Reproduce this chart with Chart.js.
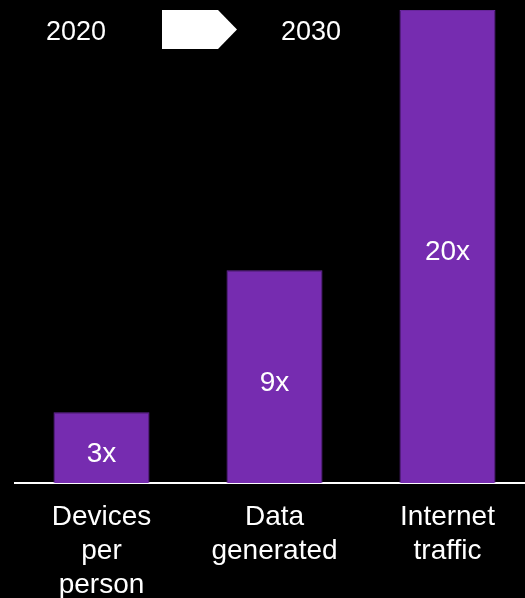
<!DOCTYPE html>
<html>
<head>
<meta charset="utf-8">
<script src="https://cdn.jsdelivr.net/npm/chart.js@4.4.0/dist/chart.umd.min.js"></script>
<style>
    html, body { margin: 0; padding: 0; background: #000; overflow: hidden; }
    #wrap { position: relative; width: 525px; height: 598px; overflow: hidden; }
</style>
</head>
<body>
<div id="wrap"><canvas id="growthChart" width="540" height="611"></canvas></div>
<script>
// Growth multipliers from 2020 to 2030
const categories = [['Devices', 'per', 'person'], ['Data', 'generated'], ['Internet', 'traffic']];
const multipliers = [3, 9, 20];
const yearFrom = '2020';
const yearTo = '2030';

const FONT = '"Liberation Sans", Arial, sans-serif';
const PURPLE = '#762cb0';

// Value text in the middle of each bar
const barLabels = {
    id: 'barLabels',
    afterDatasetsDraw(chart) {
        const ctx = chart.ctx;
        const meta = chart.getDatasetMeta(0);
        ctx.save();
        ctx.fillStyle = '#ffffff';
        ctx.font = `28px ${FONT}`;
        ctx.textAlign = 'center';
        ctx.textBaseline = 'middle';
        meta.data.forEach((bar, i) => {
            const y = (bar.y + bar.base) / 2 + 6;
            ctx.fillText(`${multipliers[i]}x`, bar.x, y);
        });
        ctx.restore();
    }
};

// Year heading with the arrow between
const yearHeader = {
    id: 'yearHeader',
    afterDraw(chart) {
        const ctx = chart.ctx;
        ctx.save();
        ctx.fillStyle = '#ffffff';
        ctx.font = `27px ${FONT}`;
        ctx.textAlign = 'center';
        ctx.textBaseline = 'alphabetic';
        ctx.fillText(yearFrom, 76, 40);
        ctx.fillText(yearTo, 311, 40);

        ctx.beginPath();
        ctx.moveTo(162, 10);
        ctx.lineTo(218, 10);
        ctx.lineTo(237, 29.5);
        ctx.lineTo(218, 49);
        ctx.lineTo(162, 49);
        ctx.closePath();
        ctx.fill();
        ctx.restore();
    }
};

const ctx = document.getElementById('growthChart').getContext('2d');
const chart = new Chart(ctx, {
    type: 'bar',
    data: {
        labels: categories,
        datasets: [{
            data: multipliers,
            backgroundColor: PURPLE,
            borderColor: '#67269b',
            borderWidth: 1,
            borderSkipped: 'bottom',
            barPercentage: 0.555,
            categoryPercentage: 1
        }]
    },
    options: {
        responsive: false,
        devicePixelRatio: 1,
        animation: false,
        layout: {
            padding: { left: 15, right: 6, top: 10, bottom: 0 }
        },
        plugins: {
            legend: { display: false },
            tooltip: { enabled: false }
        },
        scales: {
            x: {
                grid: { display: false },
                border: { display: true, color: '#ffffff', width: 2 },
                ticks: {
                    color: '#ffffff',
                    font: { family: FONT, size: 28, lineHeight: 1.21 },
                    padding: 9,
                    maxRotation: 0,
                    autoSkip: false
                }
            },
            y: {
                display: false,
                min: 0,
                max: 20
            }
        }
    },
    plugins: [barLabels, yearHeader]
});
</script>
</body>
</html>
